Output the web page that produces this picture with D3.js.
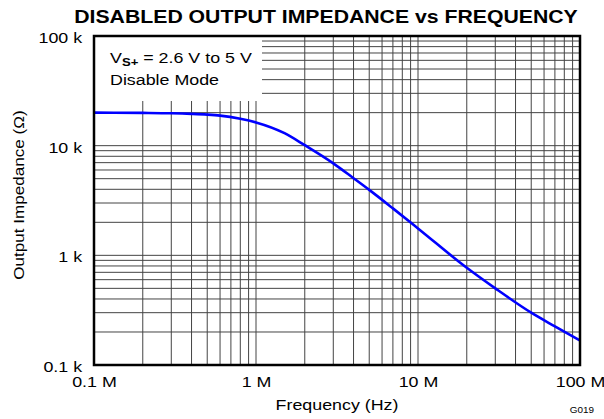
<!DOCTYPE html>
<html>
<head>
<meta charset="utf-8">
<script src="https://cdn.jsdelivr.net/npm/d3@7"></script>
<style>
  html, body { margin: 0; padding: 0; background: #fff; }
  svg { display: block; font-family: "Liberation Sans", Arial, sans-serif; }
</style>
</head>
<body>
<svg id="chart" width="604" height="419"></svg>
<script>
// Disabled-mode output impedance, frequency in MHz, impedance in kΩ
const freqMHz = [0.1, 0.2, 0.3, 0.4, 0.5, 0.6, 0.8, 1, 1.5, 2, 3, 4, 5, 7, 10, 20, 30, 50, 70, 100];
const impedanceK = [20, 19.9, 19.75, 19.5, 19.2, 18.8, 17.6, 16.3, 13.0, 10.1, 6.9, 5.05, 3.95, 2.68, 1.76, 0.77, 0.5, 0.3, 0.225, 0.167];

const xTickValues = [0.1, 1, 10, 100];
const xTickLabels = ["0.1 M", "1 M", "10 M", "100 M"];
const yTickValues = [0.1, 1, 10, 100];
const yTickLabels = ["0.1 k", "1 k", "10 k", "100 k"];

const titleText = "DISABLED OUTPUT IMPEDANCE vs FREQUENCY";
const xTitle = "Frequency (Hz)";
const yTitle = "Output Impedance (Ω)";
const legendLine2 = "Disable Mode";
const figCode = "G019";

const svg = d3.select("#chart");
const plot = { left: 94, right: 580, top: 36, bottom: 365 };
const stretch = 1.19; // horizontal text widening

const x = d3.scaleLog().domain([0.1, 100]).range([plot.left, plot.right]);
const y = d3.scaleLog().domain([0.1, 100]).range([plot.bottom, plot.top]);

// Minor + major grid at 1..9 of each decade
const gridVals = [];
[0.1, 1, 10].forEach(d => { for (let k = 1; k <= 9; k++) gridVals.push(d * k); });
gridVals.push(100);

const grid = svg.append("g").attr("stroke", "#444").attr("stroke-width", 1).attr("fill", "none");
grid.selectAll("line.v").data(gridVals).join("line").attr("class", "v")
  .attr("x1", d => x(d)).attr("x2", d => x(d))
  .attr("y1", plot.top).attr("y2", plot.bottom);
grid.selectAll("line.h").data(gridVals).join("line").attr("class", "h")
  .attr("x1", plot.left).attr("x2", plot.right)
  .attr("y1", d => y(d)).attr("y2", d => y(d));

// Legend panel masks the grid in the upper-left corner
svg.append("rect")
  .attr("x", plot.left).attr("y", plot.top)
  .attr("width", 262 - plot.left).attr("height", 101 - plot.top)
  .attr("fill", "#fff");

const legend = svg.append("g").attr("font-size", 15).attr("fill", "#000");
const l1 = legend.append("text").attr("transform", `translate(110,63) scale(${stretch},1)`);
l1.append("tspan").text("V");
l1.append("tspan").attr("font-weight", "bold").attr("font-size", 11).attr("dy", 3).text("S+");
l1.append("tspan").attr("dy", -3).text(" = 2.6 V to 5 V");
legend.append("text").attr("transform", `translate(110,85) scale(${stretch},1)`).text(legendLine2);

// Impedance curve
const line = d3.line()
  .x((d, i) => x(freqMHz[i]))
  .y(d => y(d))
  .curve(d3.curveMonotoneX);
svg.append("path")
  .datum(impedanceK)
  .attr("d", line)
  .attr("fill", "none")
  .attr("stroke", "#0000ff")
  .attr("stroke-width", 2.6)
  .attr("stroke-linejoin", "round");

// Frame
svg.append("rect")
  .attr("x", plot.left).attr("y", plot.top)
  .attr("width", plot.right - plot.left).attr("height", plot.bottom - plot.top)
  .attr("fill", "none").attr("stroke", "#000").attr("stroke-width", 2.5);

// Axes
const xAxis = d3.axisBottom(x).tickValues(xTickValues)
  .tickFormat((d, i) => xTickLabels[i]).tickSize(0).tickPadding(11);
const gx = svg.append("g").attr("transform", `translate(0,${plot.bottom})`).call(xAxis);
gx.select(".domain").remove();
gx.selectAll("text").attr("font-size", 15).attr("fill", "#000")
  .attr("font-family", "Liberation Sans, Arial, sans-serif")
  .attr("transform", `scale(${stretch},1)`);

const yAxis = d3.axisLeft(y).tickValues(yTickValues)
  .tickFormat((d, i) => yTickLabels[i]).tickSize(0).tickPadding(10);
const gy = svg.append("g").attr("transform", `translate(${plot.left},0)`).call(yAxis);
gy.select(".domain").remove();
gy.selectAll("text").attr("font-size", 15).attr("fill", "#000").attr("dy", "0.43em")
  .attr("font-family", "Liberation Sans, Arial, sans-serif")
  .attr("transform", `scale(${stretch},1)`);

// Titles
svg.append("text")
  .attr("transform", `translate(326,23) scale(1.18,1)`)
  .attr("text-anchor", "middle").attr("font-size", 18).attr("font-weight", "bold")
  .text(titleText);

svg.append("text")
  .attr("transform", `translate(337,410) scale(${stretch},1)`)
  .attr("text-anchor", "middle").attr("font-size", 15)
  .text(xTitle);

svg.append("text")
  .attr("transform", `translate(24,195) rotate(-90) scale(1.14,1)`)
  .attr("text-anchor", "middle").attr("font-size", 15)
  .text(yTitle);

svg.append("text")
  .attr("transform", `translate(594,413) scale(1.1,1)`)
  .attr("text-anchor", "end").attr("font-size", 9)
  .text(figCode);
</script>
</body>
</html>
